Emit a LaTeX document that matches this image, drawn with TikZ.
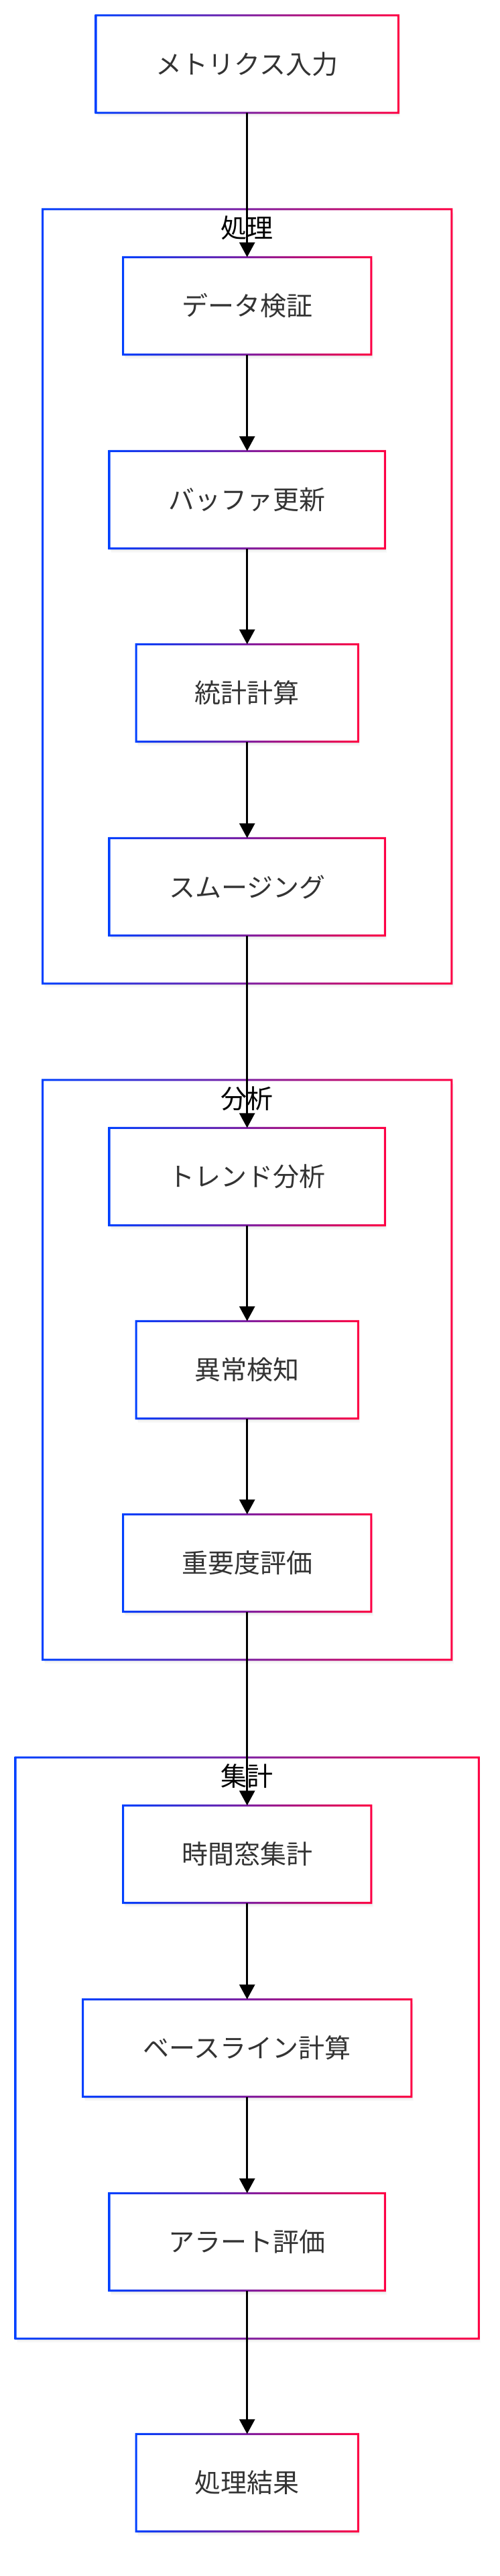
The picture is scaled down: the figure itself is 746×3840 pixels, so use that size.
\documentclass[tikz,border=0pt]{standalone}
\usepackage{fontspec}
\setmainfont{Noto Sans CJK JP}
\usetikzlibrary{arrows.meta,shadows}
\definecolor{gblue}{RGB}{0,64,255}
\definecolor{gred}{RGB}{255,0,68}
\definecolor{txtgray}{RGB}{51,51,51}
\newcommand\gborder[1]{%
  \shade[left color=gblue,right color=gred,even odd rule]
    ([shift={(-1.5pt,1.5pt)}]#1.north west) rectangle ([shift={(1.5pt,-1.5pt)}]#1.south east)
    ([shift={(1.5pt,-1.5pt)}]#1.north west) rectangle ([shift={(-1.5pt,1.5pt)}]#1.south east);}
\tikzset{
  softshadow/.style={
    general shadow={fill=black,opacity=0.035,shadow xshift=1pt,shadow yshift=-2pt},
    general shadow={fill=black,opacity=0.03,shadow xshift=2pt,shadow yshift=-4pt},
    general shadow={fill=black,opacity=0.025,shadow xshift=3pt,shadow yshift=-6pt}},
  box/.style={fill=white,minimum height=145pt,inner sep=0pt,text=txtgray,
    font=\fontsize{39}{47}\selectfont,softshadow},
  cluster/.style={fill=white,inner sep=0pt,softshadow},
  ctitle/.style={text=black,font=\fontsize{39}{47}\selectfont,inner sep=0pt},
  arrow/.style={draw=black,line width=3pt,-{Triangle[length=22pt,width=23pt]}}
}
\begin{document}
\begin{tikzpicture}[x=1pt,y=1pt]
\useasboundingbox[fill=white] (0,0) rectangle (746,-3840);
\def\cx{368.7}
% clusters
\node[cluster,minimum width=610pt,minimum height=1154pt] (c1) at (\cx,-889) {};
\gborder{c1}
\node[ctitle] (c1t) at ([yshift=-28pt]c1.north) {処理};
\node[cluster,minimum width=610pt,minimum height=864pt] (c2) at (\cx,-2042) {};
\gborder{c2}
\node[ctitle] (c2t) at ([yshift=-28pt]c2.north) {分析};
\node[cluster,minimum width=691pt,minimum height=866pt] (c3) at (\cx,-3053) {};
\gborder{c3}
\node[ctitle] (c3t) at ([yshift=-28pt]c3.north) {集計};
% nodes
\node[box,minimum width=451pt] (in) at (\cx,-95.5) {メトリクス入力};
\gborder{in}
\node[box,minimum width=370pt] (n1) at (\cx,-456) {データ検証};
\gborder{n1}
\node[box,minimum width=411pt] (n2) at (\cx,-745) {バッファ更新};
\gborder{n2}
\node[box,minimum width=331pt] (n3) at (\cx,-1033) {統計計算};
\gborder{n3}
\node[box,minimum width=411pt] (n4) at (\cx,-1322) {スムージング};
\gborder{n4}
\node[box,minimum width=411pt] (n5) at (\cx,-1754) {トレンド分析};
\gborder{n5}
\node[box,minimum width=331pt] (n6) at (\cx,-2042) {異常検知};
\gborder{n6}
\node[box,minimum width=370pt] (n7) at (\cx,-2330) {重要度評価};
\gborder{n7}
\node[box,minimum width=370pt] (n8) at (\cx,-2764) {時間窓集計};
\gborder{n8}
\node[box,minimum width=490pt] (n9) at (\cx,-3053) {ベースライン計算};
\gborder{n9}
\node[box,minimum width=411pt] (n10) at (\cx,-3342) {アラート評価};
\gborder{n10}
\node[box,minimum width=331pt] (out) at (\cx,-3701) {処理結果};
\gborder{out}
% arrows
\draw[arrow] (in.south) -- (n1.north);
\draw[arrow] (n1.south) -- (n2.north);
\draw[arrow] (n2.south) -- (n3.north);
\draw[arrow] (n3.south) -- (n4.north);
\draw[arrow] (n4.south) -- (n5.north);
\draw[arrow] (n5.south) -- (n6.north);
\draw[arrow] (n6.south) -- (n7.north);
\draw[arrow] (n7.south) -- (n8.north);
\draw[arrow] (n8.south) -- (n9.north);
\draw[arrow] (n9.south) -- (n10.north);
\draw[arrow] (n10.south) -- (out.north);
\end{tikzpicture}
\end{document}
